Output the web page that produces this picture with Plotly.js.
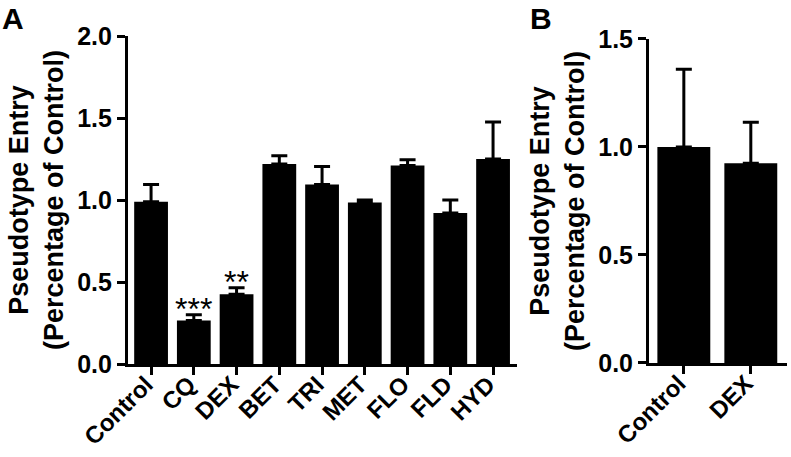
<!DOCTYPE html>
<html>
<head>
<meta charset="utf-8">
<script src="https://cdn.plot.ly/plotly-3.0.1.min.js"></script>
<style>
  html, body { margin: 0; padding: 0; background: #fff; }
  #chart { width: 791px; height: 457px; }
</style>
</head>
<body>
<div id="chart"></div>
<script>
// Panel A: compound screen
const drugsA = ["Control", "CQ", "DEX", "BET", "TRI", "MET", "FLO", "FLD", "HYD"];
const entryA = [0.99, 0.265, 0.425, 1.22, 1.095, 0.985, 1.21, 0.92, 1.25];
const semA = [0.105, 0.035, 0.04, 0.05, 0.11, 0.015, 0.035, 0.08, 0.225];
const starsA = ["", "***", "**", "", "", "", "", "", ""];

// Panel B: control vs DEX
const drugsB = ["Control", "DEX"];
const entryB = [1.0, 0.925];
const semB = [0.36, 0.19];

const yTicksA = [0, 0.5, 1.0, 1.5, 2.0];
const yTicksB = [0, 0.5, 1.0, 1.5];

const FONT = "Liberation Sans, Arial, Helvetica, sans-serif";

function bars(x, y, err, xa, ya) {
  return {
    type: "bar",
    x: x,
    y: y,
    xaxis: xa,
    yaxis: ya,
    marker: { color: "#000", line: { width: 0 } },
    error_y: {
      type: "data",
      symmetric: false,
      array: err,
      arrayminus: err.map(() => 0),
      color: "#000",
      thickness: 3,
      width: 8,
    },
    hoverinfo: "skip",
  };
}

const traces = [
  bars(drugsA, entryA, semA, "x", "y"),
  bars(drugsB, entryB, semB, "x2", "y2"),
];

const axisBase = {
  showline: true,
  linewidth: 3,
  linecolor: "#000",
  ticks: "outside",
  ticklen: 8,
  tickwidth: 3,
  tickcolor: "#000",
  showgrid: false,
  zeroline: false,
  tickfont: { family: FONT, size: 25, color: "#000", weight: "bold" },
};

const xTickStyle = {
  tickangle: -45,
  tickfont: { family: FONT, size: 24, color: "#000", weight: "bold" },
  ticklabelstandoff: -14,
  ticklabelshift: -5,
};

const yTitle = {
  text: "Pseudotype Entry<br>(Percentage of Control)",
  font: { family: FONT, size: 27, color: "#000", weight: "bold" },
  standoff: 6,
};

const annotations = [];
starsA.forEach((s, i) => {
  if (!s) return;
  annotations.push({
    xref: "x", yref: "y",
    x: drugsA[i], y: entryA[i] + semA[i],
    text: s, showarrow: false,
    yanchor: "bottom", yshift: -14,
    font: { family: FONT, size: 32, color: "#000" },
  });
});
annotations.push(
  { xref: "paper", yref: "paper", x: 0.0, y: 1.0, xanchor: "left", yanchor: "top",
    text: "A", showarrow: false, font: { family: FONT, size: 30, color: "#000", weight: "bold" } },
  { xref: "paper", yref: "paper", x: 0.667, y: 1.0, xanchor: "left", yanchor: "top",
    text: "B", showarrow: false, font: { family: FONT, size: 30, color: "#000", weight: "bold" } }
);

const layout = {
  width: 791,
  height: 457,
  margin: { l: 0, r: 0, t: 0, b: 0 },
  paper_bgcolor: "#fff",
  plot_bgcolor: "#fff",
  showlegend: false,
  bargap: 0.21,
  xaxis: Object.assign({}, axisBase, xTickStyle, {
    domain: [0.1618, 0.6536],
    range: [-0.54, 8.56],
  }),
  yaxis: Object.assign({}, axisBase, {
    domain: [0.2035, 0.9212],
    range: [0, 2.0],
    tickvals: yTicksA,
    tickformat: ".1f",
    title: yTitle,
  }),
  xaxis2: Object.assign({}, axisBase, xTickStyle, {
    domain: [0.8205, 0.9949],
    range: [-0.52, 1.54],
    anchor: "y2",
  }),
  yaxis2: Object.assign({}, axisBase, {
    domain: [0.2057, 0.9147],
    range: [0, 1.5],
    tickvals: yTicksB,
    tickformat: ".1f",
    anchor: "x2",
    title: yTitle,
  }),
  annotations: annotations,
};

Plotly.newPlot("chart", traces, layout, { displayModeBar: false, staticPlot: true });
</script>
</body>
</html>
